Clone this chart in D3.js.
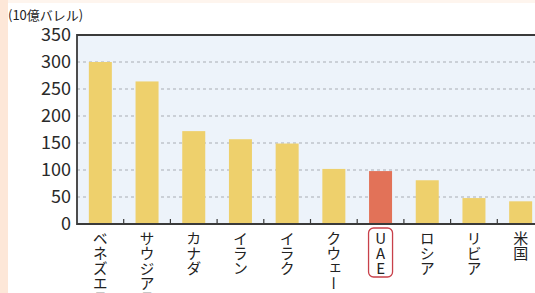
<meta charset="utf-8">
<head>
  <script src="https://d3js.org/d3.v7.min.js"></script>
  <style>
    body { margin: 0; background: #fff; }
    svg { display: block; }
  </style>
</head>
<body>
  <svg id="svg" width="535" height="293"></svg>
  <script>
    // country names and reserves (10億バレル)
    let countries = ["ベネズエラ", "サウジアラビア", "カナダ", "イラン", "イラク", "クウェート", "UAE", "ロシア", "リビア", "米国"];
    let reserves = [300, 264, 172, 157, 149, 102, 98, 81, 48, 42];
    let yTicks = [0, 50, 100, 150, 200, 250, 300, 350];
    let highlight = "UAE";

    let svg = d3.select("#svg");
    let plotLeft = 77, plotTop = 35, plotBottom = 224;
    let font = "'Noto Sans CJK JP', 'DejaVu Sans', sans-serif";

    // orange side strip
    svg.append("rect").attr("x", 0).attr("y", 0).attr("width", 8).attr("height", 293).attr("fill", "#fde7d8");
    svg.append("rect").attr("x", 8).attr("y", 0).attr("width", 527).attr("height", 3).attr("fill", "#fef5ee");

    let x = d3.scaleBand()
      .domain(countries)
      .range([plotLeft, plotLeft + 46.7 * countries.length]);

    let y = d3.scaleLinear()
      .domain([0, 350])
      .range([plotBottom, plotTop]);

    // plot background
    svg.append("rect")
      .attr("x", plotLeft).attr("y", plotTop)
      .attr("width", 535 - plotLeft).attr("height", plotBottom - plotTop)
      .attr("fill", "#edf3fa");

    // grid
    svg.append("g").selectAll("line")
      .data(yTicks.filter(d => d > 0 && d < 350))
      .enter().append("line")
      .attr("x1", plotLeft).attr("x2", 535)
      .attr("y1", d => y(d)).attr("y2", d => y(d))
      .attr("stroke", "#a9adb3")
      .attr("stroke-width", 1.2)
      .attr("stroke-dasharray", "3,3");

    // bars
    let barW = 23;
    svg.append("g").selectAll("rect")
      .data(countries)
      .enter().append("rect")
      .attr("x", d => x(d) + x.bandwidth() / 2 - barW / 2)
      .attr("width", barW)
      .attr("y", (d, i) => y(reserves[i]))
      .attr("height", (d, i) => y(0) - y(reserves[i]))
      .attr("fill", d => d === highlight ? "#e27258" : "#eed06c");

    // frame
    svg.append("path")
      .attr("d", `M535,${plotTop}H${plotLeft}V${plotBottom}H535`)
      .attr("fill", "none")
      .attr("stroke", "#3a3a3a")
      .attr("stroke-width", 1.8);

    // small ticks between bars
    svg.append("g").selectAll("line")
      .data(countries.slice(1))
      .enter().append("line")
      .attr("x1", d => x(d)).attr("x2", d => x(d))
      .attr("y1", plotBottom).attr("y2", plotBottom - 5)
      .attr("stroke", "#3a3a3a")
      .attr("stroke-width", 1.2);

    // y axis labels
    let yAxis = svg.append("g")
      .attr("transform", `translate(${plotLeft - 6},0)`)
      .call(d3.axisLeft(y).tickValues(yTicks).tickSize(0).tickPadding(0));
    yAxis.select(".domain").remove();
    yAxis.selectAll("text")
      .attr("font-size", 18)
      .attr("font-family", font)
      .attr("fill", "#2a2a2a");

    svg.append("text")
      .attr("x", 8).attr("y", 20)
      .attr("font-size", 13)
      .attr("font-family", font)
      .attr("fill", "#222")
      .text("(10億バレル)");

    // vertical category labels
    svg.append("g").selectAll("text")
      .data(countries)
      .enter().append("text")
      .attr("x", d => x(d) + x.bandwidth() / 2)
      .attr("y", 231)
      .attr("font-size", 15)
      .attr("font-family", font)
      .attr("fill", "#222")
      .style("writing-mode", "vertical-rl")
      .style("text-orientation", d => d === highlight ? "upright" : "mixed")
      .text(d => d);

    // box round the highlighted label
    let hx = x(highlight) + x.bandwidth() / 2;
    svg.append("rect")
      .attr("x", hx - 12).attr("y", 228)
      .attr("width", 24).attr("height", 49)
      .attr("rx", 5)
      .attr("fill", "none")
      .attr("stroke", "#c8404a")
      .attr("stroke-width", 1.3);
  </script>
</body>
